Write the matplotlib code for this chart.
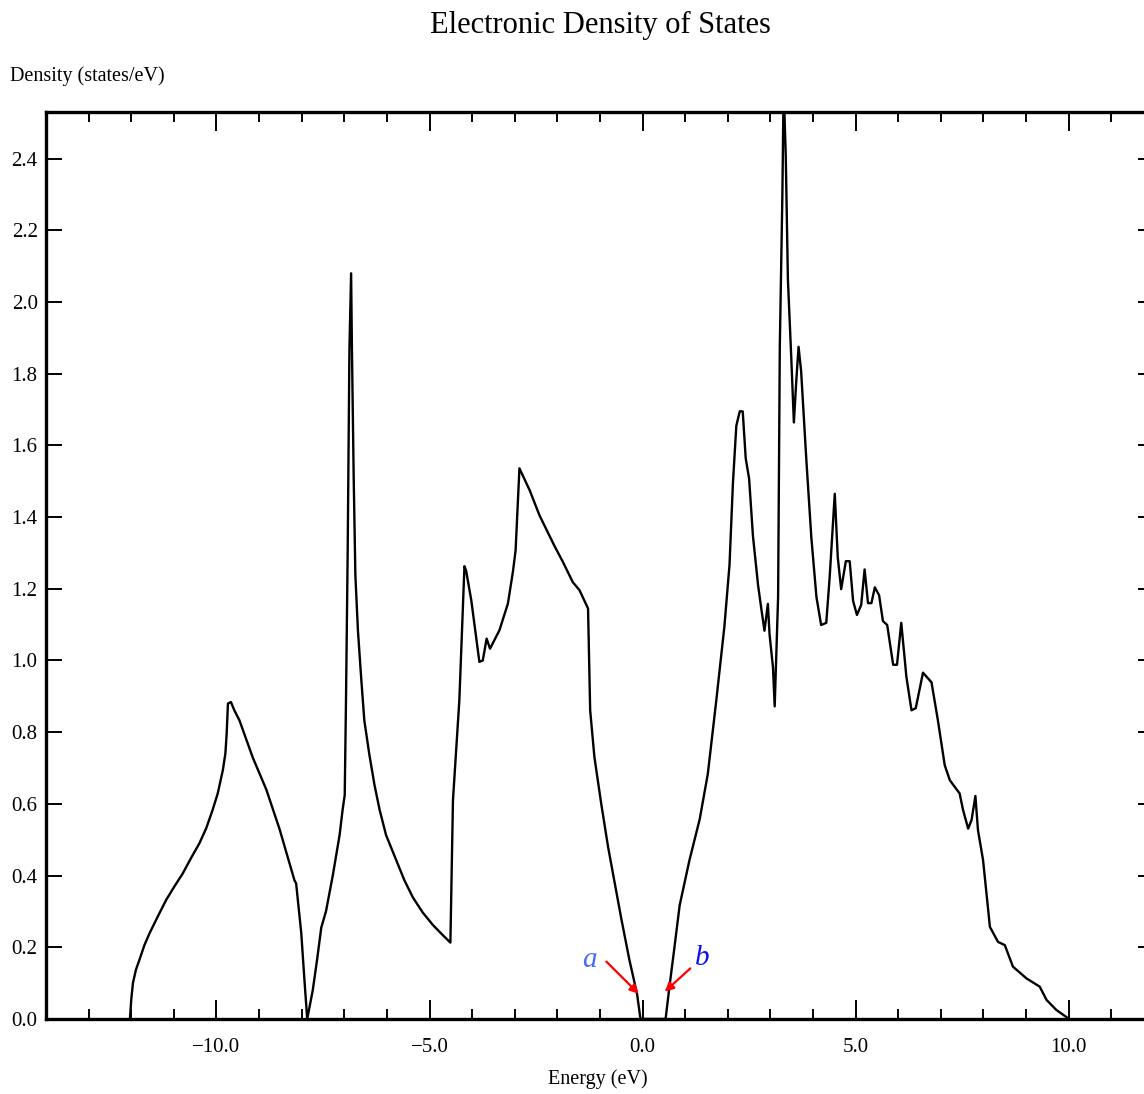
import matplotlib.pyplot as plt
from matplotlib.ticker import MultipleLocator, FuncFormatter

# energy (eV) and density of states (states/eV)
energy = [
    -12.03, -12.00, -11.96, -11.89, -11.81, -11.69, -11.57, -11.38, -11.18, -10.99,
    -10.79, -10.60, -10.40, -10.24, -10.09, -9.97, -9.85, -9.79, -9.76, -9.73,
    -9.66, -9.58, -9.46, -9.15, -8.83, -8.52, -8.17, -8.13, -8.01, -7.93,
    -7.87,
    -7.74, -7.64, -7.54, -7.43, -7.27, -7.11, -7.04, -6.99, -6.96, -6.92,
    -6.88, -6.84, -6.82, -6.78, -6.74, -6.68, -6.60, -6.53, -6.41, -6.29,
    -6.17, -6.02, -5.78, -5.59, -5.39, -5.16, -4.92, -4.69, -4.51,
    -4.45, -4.30, -4.18, -4.14, -4.02, -3.83, -3.75, -3.66, -3.58, -3.36,
    -3.16, -3.04, -2.98, -2.89, -2.65, -2.42, -2.07, -1.87, -1.64, -1.48,
    -1.28, -1.23, -1.13, -0.97, -0.81, -0.50, -0.31, -0.13, -0.05,
    0.54, 0.63, 0.73, 0.87, 1.10, 1.34, 1.53, 1.73, 1.92, 2.04,
    2.12, 2.20, 2.28, 2.35, 2.42, 2.50, 2.59, 2.71, 2.79, 2.86,
    2.94, 2.98, 3.06, 3.10, 3.18, 3.22, 3.28, 3.31, 3.36, 3.41,
    3.49, 3.55, 3.61, 3.66, 3.72, 3.84, 3.96, 4.08, 4.19, 4.31,
    4.39, 4.51, 4.58, 4.66, 4.77, 4.86, 4.94, 5.03, 5.13, 5.21,
    5.29, 5.37, 5.45, 5.55, 5.64, 5.74, 5.88, 5.97, 6.07, 6.19,
    6.31, 6.41, 6.58, 6.78, 6.93, 7.09, 7.21, 7.44, 7.52, 7.64,
    7.72, 7.81, 7.87, 7.99, 8.15, 8.34, 8.50, 8.69, 9.01, 9.32,
    9.48, 9.71, 9.95, 10.0,
]
density = [
    0.0, 0.053, 0.10, 0.137, 0.164, 0.206, 0.239, 0.285, 0.332, 0.369,
    0.406, 0.448, 0.49, 0.532, 0.583, 0.629, 0.694, 0.741, 0.796, 0.88,
    0.884, 0.861, 0.833, 0.73, 0.64, 0.53, 0.387, 0.378, 0.24, 0.10,
    0.0,
    0.08, 0.164, 0.255, 0.30, 0.40, 0.513, 0.583, 0.624, 0.889, 1.307,
    1.865, 2.08, 1.865, 1.516, 1.238, 1.084, 0.945, 0.833, 0.736, 0.652,
    0.583, 0.513, 0.443, 0.387, 0.339, 0.297, 0.262, 0.234, 0.213,
    0.61, 0.889, 1.263, 1.25, 1.168, 0.996, 1.0, 1.061, 1.033, 1.084,
    1.159, 1.25, 1.307, 1.536, 1.475, 1.405, 1.32, 1.275, 1.219, 1.196,
    1.145, 0.861, 0.73, 0.60, 0.48, 0.28, 0.165, 0.07, 0.0,
    0.0, 0.09, 0.183, 0.317, 0.443, 0.557, 0.683, 0.889, 1.095, 1.267,
    1.495, 1.655, 1.695, 1.695, 1.564, 1.507, 1.347, 1.21, 1.141, 1.083,
    1.158, 1.072, 0.981, 0.872, 1.177, 1.875, 2.296, 2.60, 2.407, 2.063,
    1.842, 1.664, 1.786, 1.875, 1.808, 1.565, 1.343, 1.177, 1.099, 1.105,
    1.232, 1.465, 1.288, 1.199, 1.277, 1.277, 1.166, 1.127, 1.155, 1.254,
    1.16, 1.16, 1.204, 1.182, 1.11, 1.099, 0.988, 0.988, 1.105, 0.955,
    0.861, 0.867, 0.966, 0.939, 0.833, 0.708, 0.666, 0.629, 0.583, 0.531,
    0.555, 0.622, 0.527, 0.443, 0.257, 0.215, 0.206, 0.146, 0.113, 0.09,
    0.053, 0.025, 0.005, 0.0,
]

# band-edge markers: label, text position, arrow tail, arrow head, colour
marks = [
    ('a', (-1.24, 0.164), (-0.85, 0.160), (-0.09, 0.070), '#4a6cf5'),
    ('b', (1.41, 0.170), (1.12, 0.141), (0.52, 0.076), '#1010ee'),
]

plt.rcParams['font.family'] = ['Liberation Serif', 'DejaVu Serif']

fig = plt.figure(figsize=(11.44, 10.94), dpi=100)
ax = fig.add_axes([0.0402, 0.0686, 0.9685, 0.829])

ax.plot(energy, density, color='black', lw=1.7)

ax.set_xlim(-14, 12)
ax.set_ylim(0, 2.53)

fmt = FuncFormatter(lambda v, p: ('%.1f' % v).replace('-', '\u2212'))
ax.set_xticks([-10, -5, 0, 5, 10])
ax.xaxis.set_minor_locator(MultipleLocator(1))
ax.yaxis.set_major_locator(MultipleLocator(0.2))
ax.xaxis.set_major_formatter(fmt)
ax.yaxis.set_major_formatter(fmt)

ax.tick_params(axis='x', which='major', direction='in', length=14, width=1.4,
               top=True, labelsize=15, pad=14)
ax.tick_params(axis='x', which='minor', direction='in', length=7, width=1.4,
               top=True)
ax.tick_params(axis='y', which='major', direction='in', length=11.5, width=1.4,
               right=True, labelsize=15, pad=6)
for s in ax.spines.values():
    s.set_linewidth(2.4)

for lab, txt, tail, head, col in marks:
    ax.annotate('', xy=head, xytext=tail,
                arrowprops=dict(arrowstyle='-|>', color='red', lw=1.6,
                                mutation_scale=13, shrinkA=0, shrinkB=0))
    ax.text(txt[0], txt[1], lab, color=col, fontsize=21, style='italic',
            ha='center', va='center')

fig.text(0.525, 0.977, 'Electronic Density of States', ha='center',
         va='center', fontsize=22)
fig.text(0.009, 0.9305, 'Density (states/eV)', ha='left', va='center',
         fontsize=14.5)
fig.text(0.5225, 0.0137, 'Energy (eV)', ha='center', va='center', fontsize=14.5)

fig.savefig('out.png', dpi=100)
